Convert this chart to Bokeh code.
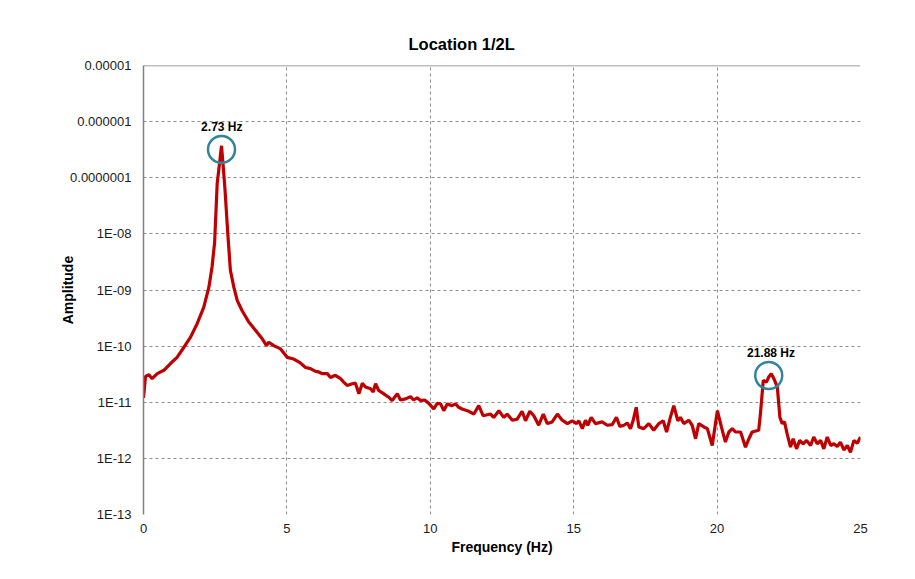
from bokeh.plotting import figure
from bokeh.models import FixedTicker, CustomJSTickFormatter, Span, ColumnDataSource
from bokeh.core.properties import value
from bokeh.embed import file_html
from bokeh.resources import INLINE

# ---- data (frequency in Hz, log10 of amplitude) ----
freq = [0.00, 0.07, 0.19, 0.30, 0.48, 0.71, 0.94, 1.17, 1.41, 1.64, 1.87, 2.10, 2.28, 2.39, 2.48,
        2.57, 2.65, 2.72, 2.78, 2.84, 2.94, 3.03, 3.15, 3.27, 3.44, 3.67, 3.91, 4.14, 4.29, 4.37,
        4.54, 4.78, 5.01, 5.24, 5.47, 5.65, 5.82, 6.00, 6.11, 6.23, 6.41, 6.52, 6.69, 6.87, 6.98,
        7.10, 7.28, 7.39, 7.51, 7.63, 7.74, 7.92, 8.01, 8.09, 8.20, 8.38, 8.55, 8.67, 8.85, 8.96,
        9.14, 9.31, 9.42, 9.54, 9.66, 9.80, 9.95, 10.12, 10.24, 10.36, 10.47, 10.59, 10.76, 10.88,
        10.99, 11.11, 11.29, 11.52, 11.69, 11.84, 12.10, 12.21, 12.39, 12.56, 12.68, 12.86, 13.03,
        13.20, 13.32, 13.47, 13.61, 13.78, 13.94, 14.08, 14.25, 14.43, 14.60, 14.78, 14.95, 15.10,
        15.18, 15.30, 15.41, 15.49, 15.61, 15.76, 15.99, 16.17, 16.34, 16.49, 16.61, 16.75, 16.87,
        16.98, 17.07, 17.18, 17.27, 17.44, 17.62, 17.79, 17.97, 18.12, 18.24, 18.37, 18.49, 18.63,
        18.72, 18.84, 19.01, 19.13, 19.25, 19.36, 19.54, 19.66, 19.83, 20.01, 20.15, 20.29, 20.41,
        20.53, 20.64, 20.82, 20.99, 21.11, 21.22, 21.45, 21.51, 21.61, 21.72, 21.80, 21.89, 21.98,
        22.10, 22.19, 22.27, 22.35, 22.44, 22.56, 22.65, 22.77, 22.88, 23.00, 23.12, 23.26, 23.37,
        23.49, 23.61, 23.72, 23.84, 23.96, 24.07, 24.19, 24.30, 24.42, 24.54, 24.65, 24.77, 24.89,
        25.00]
log_amp = [-10.92, -10.54, -10.51, -10.58, -10.49, -10.43, -10.31, -10.20, -10.02, -9.84, -9.60,
           -9.31, -8.95, -8.59, -8.15,
           -7.10, -6.75, -6.43, -6.80, -7.20, -8.00, -8.65, -8.95, -9.19, -9.37, -9.57, -9.72,
           -9.87, -9.99, -9.93,
           -9.99, -10.05, -10.20, -10.23, -10.30, -10.38, -10.40, -10.45, -10.46, -10.49, -10.49,
           -10.56, -10.52, -10.58, -10.64,
           -10.70, -10.67, -10.66, -10.85, -10.66, -10.73, -10.76, -10.82, -10.67, -10.79, -10.85,
           -10.91, -10.97, -10.85, -10.96,
           -10.94, -10.90, -10.96, -10.92, -10.97, -10.96, -11.02, -11.12, -11.02, -11.03, -11.15,
           -11.03, -11.06, -11.03,
           -11.09, -11.12, -11.15, -11.21, -11.06, -11.24, -11.21, -11.27, -11.15, -11.27, -11.21,
           -11.32, -11.30,
           -11.16, -11.33, -11.16, -11.24, -11.41, -11.21, -11.38, -11.35, -11.21, -11.32, -11.38,
           -11.33, -11.38,
           -11.33, -11.47, -11.32, -11.41, -11.27, -11.38, -11.35, -11.41, -11.40, -11.27, -11.43,
           -11.41, -11.37,
           -11.47, -11.33, -11.09, -11.44, -11.47, -11.38, -11.50, -11.38, -11.33, -11.53, -11.27,
           -11.06, -11.33,
           -11.27, -11.38, -11.32, -11.41, -11.65, -11.38, -11.44, -11.47, -11.77, -11.15, -11.44,
           -11.71, -11.53,
           -11.47, -11.53, -11.53, -11.80, -11.65, -11.53, -11.50, -11.21, -10.61, -10.64, -10.55,
           -10.49, -10.58,
           -10.73, -11.27, -11.38, -11.35, -11.56, -11.80, -11.65, -11.83, -11.68, -11.74, -11.68,
           -11.77, -11.62,
           -11.74, -11.68, -11.83, -11.62, -11.77, -11.74, -11.79, -11.71, -11.85, -11.77, -11.89,
           -11.68, -11.73,
           -11.62]
amplitude = [10 ** v for v in log_amp]

# marked peaks
circle_freq = [2.72, 21.80]
circle_amp = [3.2e-7, 3.0e-11]
label_freq = [2.73, 21.88]
peak_labels = ["2.73 Hz", "21.88 Hz"]

x_ticks = [0, 5, 10, 15, 20, 25]
y_ticks = [1e-13, 1e-12, 1e-11, 1e-10, 1e-9, 1e-8, 1e-7, 1e-6, 1e-5]
y_tick_labels = ["1E-13", "1E-12", "1E-11", "1E-10", "1E-09", "1E-08",
                 "0.0000001", "0.000001", "0.00001"]

FONT = "Liberation Sans"
GRID = "#8c8c8c"

p = figure(width=907, height=571, y_axis_type="log",
           x_range=(0, 25), y_range=(1e-13, 1e-5),
           output_backend="svg", toolbar_location=None,
           min_border_left=143, min_border_right=47,
           min_border_top=65, min_border_bottom=57,
           title="Location 1/2L")
p.outline_line_color = None
p.background_fill_color = "white"
p.border_fill_color = "white"

p.title.align = "left"
p.title.offset = 265
p.title.standoff = 26
p.title.text_font = FONT
p.title.text_font_size = "16.5px"
p.title.text_font_style = "bold"
p.title.text_color = "black"

# axes
p.xaxis.ticker = FixedTicker(ticks=x_ticks)
p.yaxis.ticker = FixedTicker(ticks=y_ticks)
p.yaxis.formatter = CustomJSTickFormatter(args=dict(vals=y_ticks, labs=y_tick_labels), code="""
    for (let i = 0; i < vals.length; i++) {
        if (Math.abs(Math.log10(vals[i]) - Math.log10(tick)) < 1e-6) return labs[i];
    }
    return "";
""")
for ax in (p.xaxis[0], p.yaxis[0]):
    ax.major_tick_line_color = None
    ax.minor_tick_line_color = None
    ax.major_label_text_font = FONT
    ax.major_label_text_font_size = "13px"
    ax.major_label_text_color = "#1a1a1a"
    ax.axis_label_text_font = FONT
    ax.axis_label_text_font_size = "14px"
    ax.axis_label_text_font_style = "bold"
    ax.axis_label_text_color = "black"
p.xaxis.axis_line_color = None
p.yaxis.axis_line_color = "#808080"
p.yaxis.axis_line_width = 1.5
p.xaxis.axis_label = "Frequency (Hz)"
p.yaxis.axis_label = "Amplitude"
p.xaxis.major_label_standoff = 3
p.yaxis.major_label_standoff = 6
p.xaxis.axis_label_standoff = 3
p.yaxis.axis_label_standoff = -9

# grid
p.xgrid.grid_line_color = GRID
p.xgrid.grid_line_dash = "3 3"
p.ygrid.grid_line_color = GRID
p.ygrid.grid_line_dash = "3 3"
p.ygrid.minor_grid_line_color = None

top = Span(location=1e-5, dimension="width", line_color="#808080", line_width=1.5)
p.add_layout(top)

src = ColumnDataSource(dict(freq=freq, amp=amplitude))
p.line("freq", "amp", source=src, line_color="#C00000", line_width=3.2)

p.scatter(circle_freq, circle_amp, marker="circle", size=27, fill_color=None,
          line_color="#31849B", line_width=2.5)
p.text(label_freq, circle_amp, text=peak_labels, text_font=value(FONT),
       text_font_size="12px", text_font_style="bold", text_color="black",
       text_align="center", text_baseline="middle", y_offset=-22)

open("out.html", "w").write(file_html(p, INLINE))
